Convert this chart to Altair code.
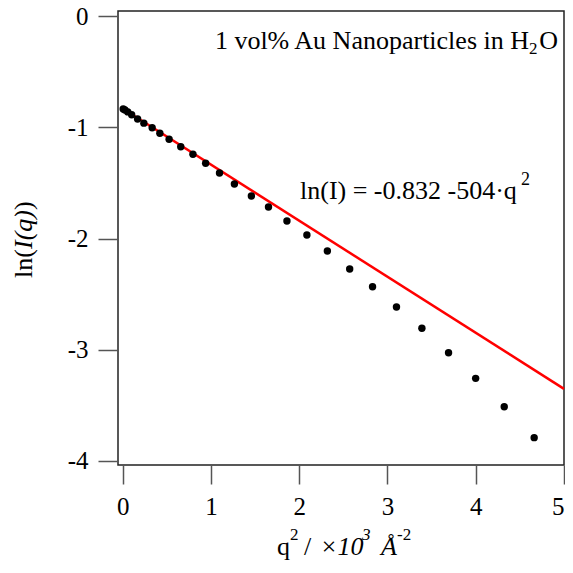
import altair as alt
import pandas as pd

# ---- data ----
q2 = [0.006, 0.026, 0.058, 0.102, 0.169, 0.240, 0.334, 0.421, 0.526, 0.658,
      0.796, 0.940, 1.097, 1.266, 1.458, 1.652, 1.861, 2.087, 2.319, 2.572,
      2.831, 3.102, 3.390, 3.692, 3.999, 4.323, 4.662]
lnI = [-0.835, -0.845, -0.862, -0.888, -0.926, -0.963, -1.004, -1.054, -1.108, -1.175,
       -1.243, -1.324, -1.411, -1.510, -1.618, -1.717, -1.843, -1.969, -2.112, -2.274,
       -2.433, -2.616, -2.807, -3.027, -3.257, -3.512, -3.790]
fit_intercept = -0.832
fit_slope = -0.504
fit_x = [0.0, 5.0]
x_ticks = [0, 1, 2, 3, 4, 5]
y_ticks = [0, -1, -2, -3, -4]

FONT = "Liberation Serif"
W, H = 446, 454
OX, OY = 118, 11  # page position of plot origin

pts = pd.DataFrame({"q2": q2, "lnI": lnI})
fit = pd.DataFrame({"q2": fit_x, "lnI": [fit_intercept + fit_slope * v for v in fit_x]})

xs = alt.Scale(domain=[-0.053, 5.0], nice=False, zero=False)
ys = alt.Scale(domain=[-4.036, 0.045], nice=False, zero=False)

xaxis = alt.Axis(values=x_ticks, tickSize=19, tickColor="#555", tickWidth=1.5, domain=False,
                 grid=False, labelFont=FONT, labelFontSize=25, labelColor="black",
                 labelPadding=10, title=None, labelExpr="'' + datum.value",
                 labelAlign=alt.condition("datum.value == 5", alt.value("right"), alt.value("center")))
yaxis = alt.Axis(values=y_ticks, tickSize=20, tickColor="#555", tickWidth=1.5, domain=False,
                 grid=False, labelFont=FONT, labelFontSize=25, labelColor="black",
                 labelPadding=10, title=None, labelExpr="'' + datum.value")

points = alt.Chart(pts).mark_circle(size=55, color="black", opacity=1).encode(
    x=alt.X("q2:Q", scale=xs, axis=xaxis),
    y=alt.Y("lnI:Q", scale=ys, axis=yaxis),
)
line = alt.Chart(fit).mark_line(color="#ff0000", strokeWidth=2.5).encode(
    x=alt.X("q2:Q", scale=xs),
    y=alt.Y("lnI:Q", scale=ys),
)


def txt(text, px, py, size=26, style="normal", align="left", angle=0):
    return alt.Chart(pd.DataFrame({"t": [text]})).mark_text(
        font=FONT, fontSize=size, fontStyle=style, align=align, baseline="alphabetic",
        angle=angle, color="black"
    ).encode(text="t:N", x=alt.value(px - OX), y=alt.value(py - OY))


texts = [
    # title inside plot
    txt("1 vol% Au Nanoparticles in H", 529, 48.5, align="right"),
    txt("2", 529, 54, size=17),
    txt("O", 558, 48.5, align="right"),
    # fit equation
    txt("ln(I) = -0.832 -504\u00b7q", 300, 199),
    txt("2", 521, 185, size=18),
    # x axis title
    txt("q", 277, 555),
    txt("2", 290, 540, size=17),
    txt("/", 304, 555),
    txt("\u00d710", 320, 555, style="italic"),
    txt("3", 362, 540, size=17, style="italic"),
    txt("\u00c5", 381, 555, style="italic"),
    txt("-2", 397, 540, size=17),
    # y axis title (rotated)
    txt("ln(", 32, 278, angle=270),
    txt("I(q)", 32, 249, style="italic", angle=270),
    txt(")", 32, 210, angle=270),
]

chart = alt.layer(line, points, *texts).properties(
    width=W, height=H,
    autosize=alt.AutoSizeParams(type="none"),
    padding={"left": 110, "top": 3, "right": 1, "bottom": 96},
).configure_view(stroke="#222", strokeWidth=1.5)

chart.save("out.html", embed_options={"renderer": "svg", "actions": False})
